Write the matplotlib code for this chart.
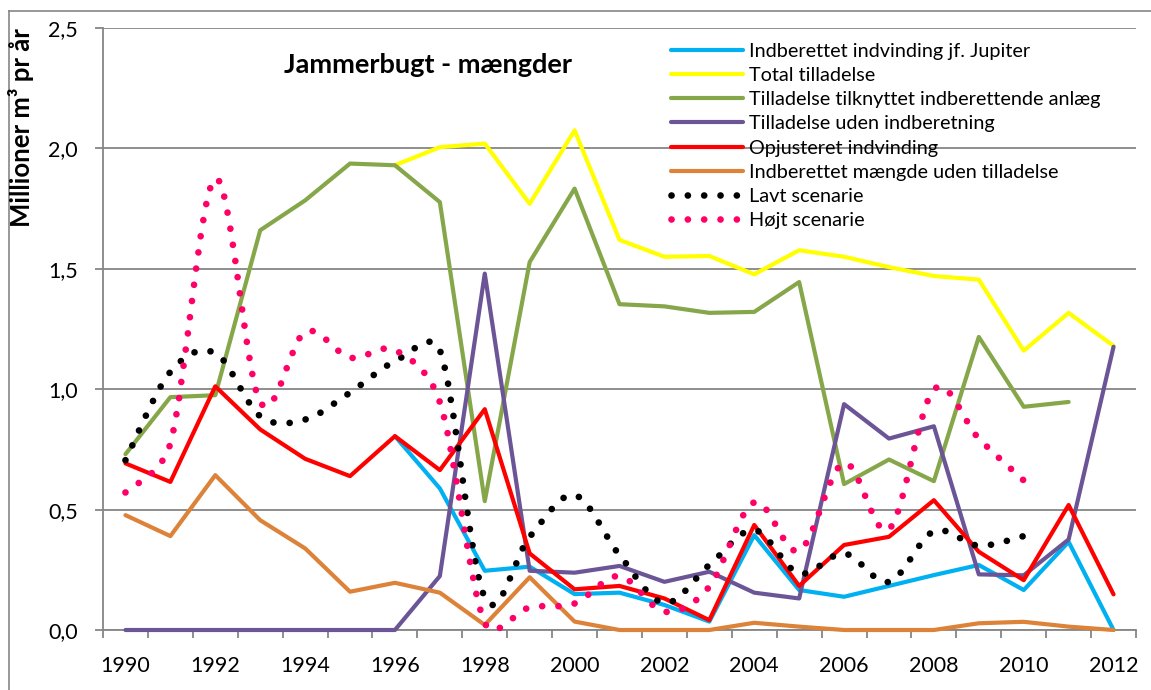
import numpy as np
import matplotlib.pyplot as plt
from matplotlib.path import Path
from matplotlib.patches import PathPatch
from matplotlib.lines import Line2D
from matplotlib.ticker import FuncFormatter

plt.rcParams['font.family'] = ['Lato', 'DejaVu Sans']

nan = np.nan
years = list(range(1990, 2013))

# Mio. m3 pr år
indberettet_jupiter = [nan] * 6 + [0.805, 0.588, 0.246, 0.263, 0.149, 0.155, 0.104, 0.035, 0.394,
                                   0.166, 0.138, 0.183, 0.228, 0.270, 0.166, 0.366, 0.0]
total_tilladelse = [nan] * 6 + [1.930, 2.005, 2.020, 1.770, 2.075, 1.620, 1.550, 1.553, 1.477,
                                1.577, 1.550, 1.507, 1.470, 1.455, 1.160, 1.317, 1.180]
tilladelse_anlaeg = [0.730, 0.967, 0.975, 1.660, 1.784, 1.937, 1.930, 1.777, 0.535, 1.528, 1.833, 1.353,
                     1.344, 1.317, 1.321, 1.445, 0.606, 0.708, 0.618, 1.217, 0.927, 0.947, nan]
tilladelse_uden = [0.0] * 7 + [0.224, 1.480, 0.246, 0.238, 0.266, 0.200, 0.242, 0.155, 0.131, 0.938,
                               0.795, 0.846, 0.231, 0.227, 0.376, 1.176]
opjusteret = [0.692, 0.615, 1.012, 0.833, 0.711, 0.639, 0.805, 0.664, 0.917, 0.318, 0.169, 0.183,
              0.131, 0.041, 0.436, 0.183, 0.353, 0.387, 0.539, 0.325, 0.207, 0.519, 0.148]
uden_tilladelse = [0.477, 0.390, 0.643, 0.456, 0.339, 0.159, 0.196, 0.155, 0.021, 0.219, 0.035, 0.0,
                   0.0, 0.0, 0.030, 0.014, 0.0, 0.0, 0.0, 0.028, 0.034, 0.014, 0.0]
lavt = [0.705, 1.072, 1.150, 0.888, 0.874, 0.986, 1.116, 1.162, 0.135, 0.387, 0.560, 0.311,
        0.112, 0.270, 0.415, 0.235, 0.318, 0.200, 0.410, 0.350, 0.390, nan, nan]
hojt = [0.571, 0.775, 1.875, 0.947, 1.238, 1.131, 1.162, 0.946, 0.030, 0.094, 0.110, 0.224,
        0.076, 0.180, 0.530, 0.329, 0.694, 0.418, 0.999, 0.795, 0.621, nan, nan]

solid_series = [
    ('Indberettet indvinding jf. Jupiter', indberettet_jupiter, '#00B0F0'),
    ('Total tilladelse', total_tilladelse, '#FFFF00'),
    ('Tilladelse tilknyttet indberettende anlæg', tilladelse_anlaeg, '#86A64A'),
    ('Tilladelse uden indberetning', tilladelse_uden, '#6C5596'),
    ('Opjusteret indvinding', opjusteret, '#FF0000'),
    ('Indberettet mængde uden tilladelse', uden_tilladelse, '#DD8239'),
]
dotted_series = [
    ('Lavt scenarie', lavt, '#000000'),
    ('Højt scenarie', hojt, '#FF0066'),
]

DOTS = (0, (0.01, 2.44))


def smooth_path(ax, x, y):
    # udglattet linje: Bezier-segmenter, kontrolarme højst halvdelen af segmentet
    pts = np.column_stack([x, y]).astype(float)
    pts = pts[~np.isnan(pts[:, 1])]
    disp = ax.transData.transform(pts)
    n = len(disp)
    verts = [disp[0]]
    codes = [Path.MOVETO]
    for i in range(n - 1):
        p0 = disp[max(i - 1, 0)]
        p1 = disp[i]
        p2 = disp[i + 1]
        p3 = disp[min(i + 2, n - 1)]
        half = np.hypot(*(p2 - p1)) / 2
        t1 = (p2 - p0) / 6
        t2 = (p3 - p1) / 6
        l1 = np.hypot(*t1)
        l2 = np.hypot(*t2)
        if l1 > half:
            t1 = t1 * half / l1
        if l2 > half:
            t2 = t2 * half / l2
        verts += [p1 + t1, p2 - t2, p2]
        codes += [Path.CURVE4] * 3
    verts = ax.transData.inverted().transform(np.array(verts))
    return Path(verts, codes)


fig = plt.figure(figsize=(11.51, 6.9), dpi=100)
ax = fig.add_axes([103 / 1151, 1 - 630 / 690, 1033 / 1151, 602 / 690])

grey = '#868686'
ax.set_ylim(0, 2.5)
ax.set_xlim(1989.5, 2012.5)

handles = []
for i, (name, vals, col) in enumerate(solid_series):
    line, = ax.plot(years, vals, color=col, lw=3, label=name, clip_on=False,
                    solid_capstyle='round', solid_joinstyle='round', zorder=3 + i)
    handles.append(line)

for j, (name, vals, col) in enumerate(dotted_series):
    patch = PathPatch(smooth_path(ax, years, vals), fill=False, edgecolor=col, lw=4.8,
                      linestyle=DOTS, capstyle='round', zorder=10 + j, clip_on=False)
    ax.add_patch(patch)
    handles.append(Line2D([], [], color=col, lw=4.8, linestyle=DOTS,
                          dash_capstyle='round', label=name))

ax.set_yticks(np.arange(0, 2.51, 0.5))
ax.yaxis.set_major_formatter(FuncFormatter(lambda v, p: f'{v:.1f}'.replace('.', ',')))
ax.grid(axis='y', color=grey, lw=1.3)
ax.set_axisbelow(True)

ax.set_xticks(np.arange(1989.5, 2013, 1))
ax.set_xticklabels([])
ax.set_xticks(years[::2], labels=[str(y) for y in years[::2]], minor=True)
ax.tick_params(axis='x', which='major', length=6, width=1.3, color=grey, direction='out')
ax.tick_params(axis='x', which='minor', length=0, pad=19, labelsize=15.5)
ax.tick_params(axis='y', length=6, width=1.3, color=grey, pad=12, labelsize=15.5)

for s in ['top', 'right']:
    ax.spines[s].set_visible(False)
for s in ['left', 'bottom']:
    ax.spines[s].set_color(grey)
    ax.spines[s].set_linewidth(1.3)

ax.text(0.175, 0.9385, 'Jammerbugt - mængder', transform=ax.transAxes,
        fontsize=19.5, fontweight='bold', va='center', ha='left')

fig.text(21 / 1151, 1 - 128 / 690, 'Millioner m³ pr år', rotation=90,
         fontsize=18.5, fontweight='bold', ha='center', va='center')

fig.legend(handles=handles, loc='upper left', bbox_to_anchor=(671 / 1151, 1 - 43 / 690),
           frameon=False, fontsize=14.3, handlelength=3.6, handletextpad=0.35,
           labelspacing=0.36, borderpad=0, borderaxespad=0)

# ramme om diagramområdet
fig.add_artist(Line2D([9 / 1151, 9 / 1151], [0, 1 - 11 / 690], color=grey, lw=1.2))
fig.add_artist(Line2D([9 / 1151, 1], [1 - 11 / 690, 1 - 11 / 690], color=grey, lw=1.2))

fig.savefig('out.png', dpi=100)
